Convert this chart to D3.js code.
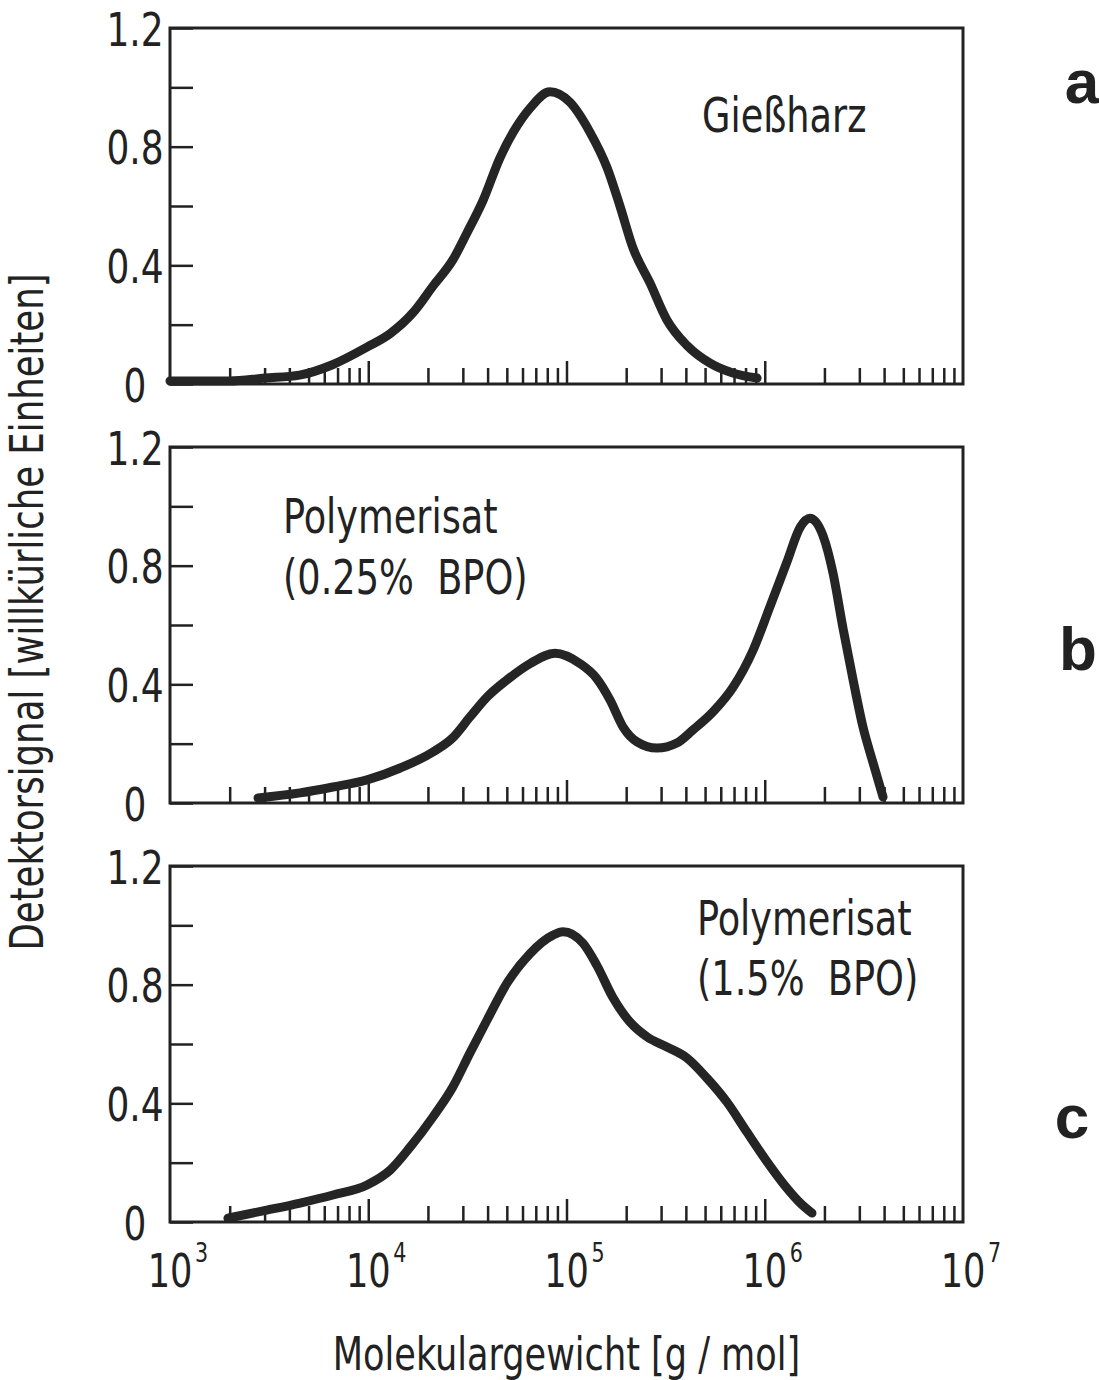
<!DOCTYPE html>
<meta charset="utf-8">
<style>
body { margin: 0; background: #fff; }
svg { display: block; }
text {
  font-family: "DejaVu Sans Condensed", "Liberation Sans Narrow", sans-serif;
  fill: #222;
}
.letter { font-family: "Liberation Sans", Arial, sans-serif; font-weight: bold; }
.frame { fill: none; stroke: #222; stroke-width: 3; }
.tick line { stroke: #222; stroke-width: 2.5; }
.curve { fill: none; stroke: #252525; stroke-width: 9; stroke-linejoin: round; stroke-linecap: round; }
</style>
<body>
<svg width="1099" height="1380"></svg>
<script src="https://cdn.jsdelivr.net/npm/d3@7"></script>
<script>

// molecular weight [g/mol] and detector signal
var mwA  = [1000, 2000, 3000, 4500, 6600, 9900, 12900, 16800, 21200, 26800, 31500, 38000, 46000,
            54000, 65500, 82500, 104000, 131000, 160000, 186000, 216000, 264000, 321000, 405000,
            530000, 690000, 915000];
var sigA = [0.01, 0.01, 0.02, 0.03, 0.065, 0.125, 0.17, 0.24, 0.33, 0.42, 0.51, 0.62, 0.76,
            0.85, 0.93, 0.985, 0.95, 0.85, 0.73, 0.60, 0.46, 0.34, 0.216, 0.13,
            0.07, 0.037, 0.02];

var mwB  = [2780, 4530, 6640, 9860, 14500, 21200, 26700, 32600, 39700, 50100, 65500, 87500,
            117000, 142000, 166000, 193000, 227000, 286000, 360000, 434000, 548000, 692000,
            873000, 1060000, 1290000, 1510000, 1690000, 1970000, 2210000, 2480000, 2790000,
            3130000, 3520000, 3950000];
var sigB = [0.017, 0.034, 0.054, 0.078, 0.118, 0.172, 0.22, 0.29, 0.357, 0.415, 0.47, 0.505,
            0.47, 0.42, 0.347, 0.256, 0.206, 0.185, 0.202, 0.246, 0.307, 0.39,
            0.515, 0.66, 0.81, 0.93, 0.96, 0.90, 0.775, 0.59, 0.415,
            0.256, 0.135, 0.02];

var mwC  = [1960, 3080, 4530, 6640, 9860, 12900, 16300, 21200, 26700, 32600, 39700, 50100,
            65500, 85500, 96000, 121000, 142000, 172000, 209000, 255000, 321000, 405000,
            511000, 645000, 813000, 1030000, 1290000, 1510000, 1730000];
var sigC = [0.013, 0.04, 0.064, 0.091, 0.125, 0.175, 0.253, 0.354, 0.455, 0.57, 0.68, 0.805,
            0.905, 0.967, 0.978, 0.94, 0.866, 0.755, 0.674, 0.624, 0.59, 0.553,
            0.485, 0.404, 0.303, 0.202, 0.115, 0.064, 0.03];

var yTicks  = [0, 0.2, 0.4, 0.6, 0.8, 1.0, 1.2];
var yLabels = [0, 0.4, 0.8, 1.2];
var xDecades = [3, 4, 5, 6, 7];
var panelLetters = ["a", "b", "c"];
var panelNotes = [["Gießharz"], ["Polymerisat", "(0.25%\u00a0 BPO)"], ["Polymerisat", "(1.5%\u00a0 BPO)"]];

var xTitle = "Molekulargewicht [g / mol]";
var yTitle = "Detektorsignal [willkürliche Einheiten]";

var svg = d3.select("svg");

var left = 170, right = 963, ph = 356;
var panelTops = [28, 447, 866];
var squeeze = 0.85;   // the lettering is narrower than DejaVu Condensed

var x = d3.scaleLog().domain([1e3, 1e7]).range([left, right]);

var majorX = [1e4, 1e5, 1e6];
var minorX = [];
for (let e = 3; e < 7; e++) {
  for (let m = 2; m <= 9; m++) minorX.push(m * Math.pow(10, e));
}

var series = [[mwA, sigA], [mwB, sigB], [mwC, sigC]];

// where the letters and notes sit (pixels)
var letterPos = [[1082, 103], [1078, 670], [1072, 1138]];
var notePos = [[702, 132, 0], [283, 533, 61], [697, 935, 60]];

function label(parent, px, py, size, s, anchor, sx) {
  return parent.append("text")
      .attr("transform", `translate(${px},${py}) scale(${sx || squeeze},1)`)
      .attr("text-anchor", anchor || "start")
      .attr("font-size", size)
      .text(s);
}

series.forEach(function(s, i) {
  var top = panelTops[i];
  var y = d3.scaleLinear().domain([0, 1.2]).range([top + ph, top]);
  var g = svg.append("g");

  // inward ticks on the bottom axis
  g.append("g")
      .attr("transform", `translate(0,${top + ph})`)
      .call(d3.axisBottom(x).tickValues(minorX).tickSizeInner(-16).tickSizeOuter(0).tickFormat(""))
      .call(a => a.select(".domain").remove());
  g.append("g")
      .attr("transform", `translate(0,${top + ph})`)
      .call(d3.axisBottom(x).tickValues(majorX).tickSizeInner(-23).tickSizeOuter(0).tickFormat(""))
      .call(a => a.select(".domain").remove());

  // inward ticks on the left axis
  g.append("g")
      .attr("transform", `translate(${left},0)`)
      .call(d3.axisLeft(y).tickValues(yTicks).tickSizeInner(-23).tickSizeOuter(0)
        .tickFormat(d => yLabels.indexOf(d) < 0 ? "" : (d === 0 ? "0" : d.toFixed(1))))
      .call(a => a.select(".domain").remove())
      .call(a => a.selectAll("text")
        .attr("x", -35 / squeeze).attr("dy", null).attr("y", 17)
        .attr("transform", `scale(${squeeze},1)`)
        .attr("text-anchor", "middle")
        .attr("font-size", 47).attr("font-family", null));

  g.append("rect").attr("class", "frame")
      .attr("x", left).attr("y", top)
      .attr("width", right - left).attr("height", ph);

  var line = d3.line()
      .x((d, k) => x(s[0][k]))
      .y(d => y(d))
      .curve(d3.curveMonotoneX);
  g.append("path").attr("class", "curve").attr("d", line(s[1]));

  var np = notePos[i];
  panelNotes[i].forEach(function(t, k) {
    label(g, np[0], np[1] + k * np[2], 48, t);
  });

  svg.append("text").attr("class", "letter")
      .attr("x", letterPos[i][0]).attr("y", letterPos[i][1])
      .attr("text-anchor", "middle").attr("font-size", 62)
      .text(panelLetters[i]);
});

// decade labels under the last panel
var bottom = panelTops[2] + ph;
var xl = svg.append("g");
xDecades.forEach(function(e) {
  var v = Math.pow(10, e);
  label(xl, x(v), bottom + 65, 46, "10", "middle");
  label(xl, x(v) + 25, bottom + 40, 27, e);
});

label(svg, (left + right) / 2, 1370, 47, xTitle, "middle", 0.83);

svg.append("text").attr("transform", `translate(43,612) rotate(-90) scale(0.84,1)`)
    .attr("text-anchor", "middle").attr("font-size", 47).text(yTitle);

</script>
</body>
